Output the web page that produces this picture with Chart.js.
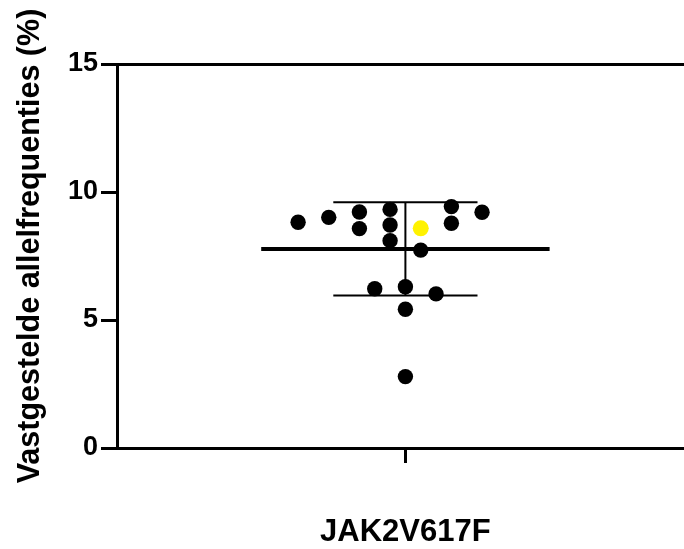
<!DOCTYPE html>
<html>
<head>
<meta charset="utf-8">
<script src="https://cdn.jsdelivr.net/npm/chart.js@4"></script>
<style>
  html, body { margin: 0; padding: 0; background: #fff; overflow: hidden; }
  #wrap { width: 684px; height: 549px; }
</style>
</head>
<body>
<div id="wrap"><canvas id="c" width="684" height="549"></canvas></div>
<script>
// ---- data ----
const categories = ['JAK2V617F'];
const yTicks = [0, 5, 10, 15];
const yTitle = 'Vastgestelde allelfrequenties (%)';
// measured allele frequencies (%) for the black points
const values = [8.82, 9.01, 9.22, 8.57, 9.32, 8.71, 8.10, 7.73, 9.43, 8.78, 9.21, 6.22, 6.30, 6.02, 5.42, 2.79];
// beeswarm column slot of each black point (relative to the category centre)
const slots  = [-3.5, -2.5, -1.5, -1.5, -0.5, -0.5, -0.5, 0.5, 1.5, 1.5, 2.5, -1, 0, 1, 0, 0];
// highlighted (yellow) sample
const highlightValues = [8.58];
const highlightSlots  = [0.5];

// ---- derived statistics ----
const allValues = values.concat(highlightValues);
const n = allValues.length;
const mean = allValues.reduce((a, b) => a + b, 0) / n;
const sd = Math.sqrt(allValues.reduce((a, b) => a + (b - mean) * (b - mean), 0) / (n - 1));

const SLOT = 0.1063;     // horizontal spacing of swarm columns (axis units)
const MEAN_HALF = 0.5;   // half width of the mean bar
const CAP_HALF = 0.25;   // half width of the SD caps

const catX = 0;
const pts = values.map((v, i) => ({ x: catX + slots[i] * SLOT, y: v }));
const hiPts = highlightValues.map((v, i) => ({ x: catX + highlightSlots[i] * SLOT, y: v }));

const lineDs = (data, w) => ({
  type: 'line', data, borderColor: '#000', borderWidth: w, pointRadius: 0,
  fill: false, tension: 0, order: 2, clip: false
});

const titleShift = {
  id: 'titleShift',
  afterLayout(chart) {
    const s = chart.scales.y;
    if (s && !s._shiftPatched) {
      const orig = s.drawTitle.bind(s);
      s.drawTitle = function () {
        this.ctx.save();
        this.ctx.translate(0, -10);
        orig();
        this.ctx.restore();
      };
      s._shiftPatched = true;
    }
  }
};

new Chart(document.getElementById('c'), {
  type: 'scatter',
  data: {
    datasets: [
      lineDs([{ x: catX - MEAN_HALF, y: mean }, { x: catX + MEAN_HALF, y: mean }], 4),
      lineDs([{ x: catX, y: mean - sd }, { x: catX, y: mean + sd }], 2),
      lineDs([{ x: catX - CAP_HALF, y: mean + sd }, { x: catX + CAP_HALF, y: mean + sd }], 2),
      lineDs([{ x: catX - CAP_HALF, y: mean - sd }, { x: catX + CAP_HALF, y: mean - sd }], 2),
      { data: pts, backgroundColor: '#000', borderWidth: 0, pointRadius: 7.7, order: 1, clip: false },
      { data: hiPts, backgroundColor: '#fff200', borderWidth: 0, pointRadius: 8, order: 0, clip: false }
    ]
  },
  options: {
    responsive: false,
    animation: false,
    events: [],
    layout: { autoPadding: false, padding: { top: 64, left: 0, right: 0, bottom: 0 } },
    plugins: { legend: { display: false }, tooltip: { enabled: false } },
    scales: {
      x: {
        type: 'linear', position: 'bottom', min: -1, max: 0.966,
        afterBuildTicks: (s) => { s.ticks = [{ value: catX }]; },
        afterFit: (s) => { s.height = 101; },
        grid: { display: true, drawOnChartArea: false, drawTicks: true, tickLength: 15, color: '#000', lineWidth: 3 },
        border: { display: true, color: '#000', width: 3 },
        ticks: {
          color: '#000', padding: 51, maxRotation: 0,
          font: { family: 'Liberation Sans', size: 31, weight: 'bold' },
          callback: () => categories[0]
        }
      },
      x2: {
        type: 'linear', position: 'top', min: -1, max: 0.966,
        afterFit: (s) => { s.height = 0; },
        grid: { display: false },
        border: { display: true, color: '#000', width: 3 },
        ticks: { display: false }
      },
      y: {
        min: 0, max: 15,
        afterBuildTicks: (s) => { s.ticks = yTicks.map(v => ({ value: v })); },
        afterFit: (s) => { s.width = 117; },
        grid: { display: true, drawOnChartArea: false, drawTicks: true, tickLength: 16, color: '#000', lineWidth: 3 },
        border: { display: true, color: '#000', width: 3 },
        ticks: {
          color: '#000', padding: 3,
          font: { family: 'Liberation Sans', size: 27, weight: 'bold' }
        },
        title: {
          display: true, text: yTitle, color: '#000',
          padding: { top: 12, bottom: 0 },
          font: { family: 'Liberation Sans', size: 30.5, weight: 'bold', lineHeight: 1.2 }
        }
      }
    }
  },
  plugins: [titleShift]
});
</script>
</body>
</html>
